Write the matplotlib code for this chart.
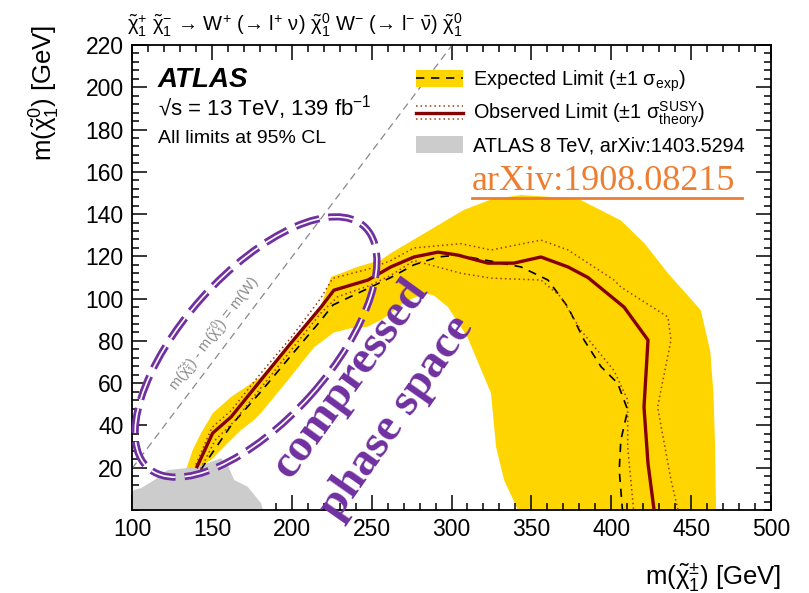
import matplotlib
matplotlib.use("Agg")
import matplotlib.pyplot as plt
from matplotlib.patches import Patch, Ellipse
from matplotlib.lines import Line2D
from matplotlib.legend_handler import HandlerBase
from matplotlib.ticker import MultipleLocator

plt.rcParams['font.family'] = ['Liberation Sans', 'DejaVu Sans']
plt.rcParams['mathtext.default'] = 'regular'

# ---------------- data (GeV) ----------------
exp_band_outer_x = [133.8, 138, 143.2, 150.7, 162, 180.7, 199.5, 218, 224.6, 230.8, 241, 255.9, 262, 281,
                    307.8, 325, 343.5, 365, 381, 406, 421, 435.5, 456, 462, 464, 465, 465.6]
exp_band_outer_y = [18.9, 28.4, 36.4, 45.9, 53.5, 63, 79, 96, 110.3, 112, 115, 118.3, 121.5, 130,
                    142, 147, 149, 148, 146.6, 137, 126, 112, 94.6, 75, 55, 30, 0]
exp_band_inner_x = [341.6, 332.9, 327.9, 326, 324.7, 310, 297.8, 289, 282.8, 270, 262, 256, 247.5, 237,
                    226.4, 214, 197.7, 180.7, 176.4, 168.2, 160, 150, 140]
exp_band_inner_y = [0, 14.2, 29.8, 45, 55.3, 81.8, 96, 101.5, 102.6, 98, 93, 90, 86.7, 86,
                    84, 77, 61.5, 45.9, 42.6, 37.8, 31.7, 24, 19]

exp_x = [143, 162, 180.7, 199.5, 218, 225.8, 245.4, 262, 276.5, 291.5, 304, 322.8, 343.5, 360.4,
         372.9, 383, 393.6, 404, 410.3, 406, 405, 407]
exp_y = [19, 40, 56, 73, 89.5, 97, 104, 110, 116, 119.7, 120.6, 118, 115, 108.8,
         96, 80.4, 67.8, 60, 47.3, 33, 19, 0]

obs_x = [140.7, 150.5, 162, 180.7, 199.5, 218.3, 226.4, 247.7, 262, 276.5, 291.5, 304, 322.8, 339,
         356, 372.9, 385.4, 408, 423, 420.5, 423, 426.8]
obs_y = [20.5, 36.4, 44, 61.5, 79, 96, 104, 108.8, 115, 119.7, 122, 120.6, 116.8, 116.8,
         119.7, 115, 110, 96, 80.4, 48.7, 22, 0]

obs_up_x = [140, 150, 162, 181, 200, 218, 225.6, 248, 262, 276.5, 306, 324.7, 356, 373,
            401.7, 406, 435.5, 437.4, 429, 437.4, 441.8]
obs_up_y = [21.5, 39, 47, 65, 82, 100, 109.6, 114, 118, 124, 126, 123, 127.7, 123,
            108.8, 105.5, 91.3, 80.4, 48.7, 14.2, 0]
obs_dn_x = [143, 152, 164, 182, 200, 218, 228.8, 248, 262, 276.5, 306, 324.7, 356, 368.5,
            381, 401.7, 410.3, 410.3, 414]
obs_dn_y = [19.5, 33, 42, 59, 76, 93, 100.9, 106, 111, 118, 112, 109.7, 108.8, 100.8,
            85, 66, 52, 29.8, 0]

grey_x = [100, 101.4, 105.6, 114, 122.3, 132.7, 141.1, 149.5, 155.7, 159.9, 164, 172.4, 180.8, 182, 100]
grey_y = [8.5, 9.5, 10.3, 14.2, 18.9, 19.7, 20.5, 22.8, 24.5, 21.3, 14.2, 11, 3.2, 0, 0]

diag_x = [100, 300]
diag_y = [19.6, 219.6]

x_ticks = [100, 150, 200, 250, 300, 350, 400, 450, 500]
y_ticks = [20, 40, 60, 80, 100, 120, 140, 160, 180, 200, 220]

# ---------------- styles ----------------
YELLOW = '#FFD500'
GREY = '#CCCCCC'
OBS = '#850000'
DOT = '#9A3A10'
PURPLE = '#7030A0'
ORANGE = '#ED7D31'

fig = plt.figure(figsize=(8.09, 5.93), dpi=100)
ax = fig.add_axes([132 / 809, 83 / 593, 639 / 809, 465 / 593])
ax.set_xlim(100, 500)
ax.set_ylim(0, 220)

# expected band
ax.fill(exp_band_outer_x + exp_band_inner_x, exp_band_outer_y + exp_band_inner_y,
        facecolor=YELLOW, edgecolor='none', zorder=1)
# 8 TeV
ax.fill(grey_x, grey_y, facecolor=GREY, edgecolor='none', zorder=2)
# kinematic line
ax.plot(diag_x, diag_y, color='#888888', lw=0.9, ls=(0, (6, 4)), zorder=2.5)
ax.text(152, 83, r'm($\tilde{\chi}^{\pm}_{1}$) - m($\tilde{\chi}^{0}_{1}$) = m(W)', color='#8a8a8a',
        fontsize=10.5, rotation=45, transform_rotates_text=True, rotation_mode='anchor',
        ha='center', va='center', zorder=2.6)

ax.plot(exp_x, exp_y, color='black', lw=1.2, ls=(0, (5, 4)), zorder=3)
ax.plot(obs_up_x, obs_up_y, color=DOT, lw=1.1, ls=(0, (1, 2)), zorder=3)
ax.plot(obs_dn_x, obs_dn_y, color=DOT, lw=1.1, ls=(0, (1, 2)), zorder=3)
ax.plot(obs_x, obs_y, color=OBS, lw=2.4, zorder=4)

# axes style
for s in ax.spines.values():
    s.set_linewidth(1.3)
ax.set_xticks(x_ticks)
ax.set_yticks(y_ticks)
ax.xaxis.set_minor_locator(MultipleLocator(10))
ax.yaxis.set_minor_locator(MultipleLocator(4))
ax.tick_params(which='both', direction='in', top=True, right=True, labelsize=16.5, width=1.1)
ax.tick_params(which='major', length=10.5, pad=6)
ax.tick_params(which='minor', length=5)

ax.set_xlabel(r'm($\tilde{\chi}^{\pm}_{1}$) [GeV]', fontsize=18.5, loc='right')
ax.xaxis.set_label_coords((781 - 132) / 639, (510 - 561) / 465)
ax.set_ylabel(r'm($\tilde{\chi}^{0}_{1}$) [GeV]', fontsize=18.5, loc='top')
ax.yaxis.set_label_coords((62 - 132) / 639, (510 - 25) / 465)

# process title
fig.text(127 / 809, 1 - 31 / 593,
         r'$\tilde{\chi}^{+}_{1}$ $\tilde{\chi}^{-}_{1}$ → W$^{+}$ (→ l$^{+}$ ν) $\tilde{\chi}^{0}_{1}$ '
         r'W$^{-}$ (→ l$^{-}$ $\bar{\nu}$) $\tilde{\chi}^{0}_{1}$',
         fontsize=14.5, ha='left', va='baseline')

# ATLAS labels
ax.text(0.04, 0.909, 'ATLAS', transform=ax.transAxes, fontsize=20, fontweight='bold',
        fontstyle='italic', ha='left', va='baseline')
ax.text(0.04, 0.849, '√s = 13 TeV, 139 fb$^{-1}$', transform=ax.transAxes, fontsize=16,
        ha='left', va='baseline')
ax.text(0.04, 0.789, 'All limits at 95% CL', transform=ax.transAxes, fontsize=14,
        ha='left', va='baseline')


# legend
class HandlerObserved(HandlerBase):
    def create_artists(self, legend, orig_handle, xdescent, ydescent, width, height, fontsize, trans):
        x0, x1 = -xdescent, width - xdescent
        yc = height / 2 - ydescent
        dy = height * 0.42
        main = Line2D([x0, x1], [yc, yc], color=OBS, lw=2.4, transform=trans)
        up = Line2D([x0, x1], [yc + dy, yc + dy], color=DOT, lw=1.1, ls=(0, (1, 2)), transform=trans)
        dn = Line2D([x0, x1], [yc - dy, yc - dy], color=DOT, lw=1.1, ls=(0, (1, 2)), transform=trans)
        return [main, up, dn]


h_exp = (Patch(facecolor=YELLOW, edgecolor='none'), Line2D([], [], color='black', lw=1.2, ls=(0, (5, 4))))
h_obs = Line2D([], [], color=OBS)
h_8tev = Patch(facecolor=GREY, edgecolor='none')
leg = ax.legend([h_exp, h_obs, h_8tev],
                [r'Expected Limit (±1 $\sigma_{exp}$)',
                 r'Observed Limit (±1 $\sigma^{SUSY}_{theory}$)',
                 'ATLAS 8 TeV, arXiv:1403.5294'],
                handler_map={h_obs: HandlerObserved()},
                loc='upper left', bbox_to_anchor=((416 - 132) / 639, (510 - 68) / 465),
                frameon=False, fontsize=14.3, borderpad=0, borderaxespad=0,
                handlelength=2.35, handleheight=0.9, handletextpad=0.5, labelspacing=0.3)
leg.set_zorder(6)

# annotations
fig.text(472 / 809, 1 - 190 / 593, 'arXiv:1908.08215', color=ORANGE, fontsize=26,
         family='Liberation Serif', ha='left', va='baseline')
fig.add_artist(Line2D([472 / 809, 742 / 809], [1 - 198 / 593, 1 - 198 / 593], color=ORANGE, lw=2,
                      transform=fig.transFigure))

# compressed region ellipse (double dashed outline), in figure inches
ell_center = (2.56, 2.46)
ell_w, ell_h, ell_angle = 3.24, 1.46, 48.2
outer = Ellipse(ell_center, ell_w, ell_h, angle=ell_angle, fill=False, edgecolor=PURPLE,
                lw=5.2, ls=(0, (18 / 5.2, 6.5 / 5.2)), transform=fig.dpi_scale_trans, zorder=7)
inner = Ellipse(ell_center, ell_w, ell_h, angle=ell_angle, fill=False, edgecolor='white',
                lw=1.2, ls=(0, (18 / 1.2, 6.5 / 1.2)), transform=fig.dpi_scale_trans, zorder=7.1)
fig.add_artist(outer)
fig.add_artist(inner)

ax.text(236.5, 62.4, 'compressed', color=PURPLE, fontsize=34, fontweight='bold',
        family='Liberation Serif', rotation=54, rotation_mode='anchor', ha='center', va='center',
        clip_on=False, zorder=8)
ax.text(265.9, 43.5, 'phase space', color=PURPLE, fontsize=34, fontweight='bold',
        family='Liberation Serif', rotation=55, rotation_mode='anchor', ha='center', va='center',
        clip_on=False, zorder=8)

fig.savefig('out.png', dpi=100)
